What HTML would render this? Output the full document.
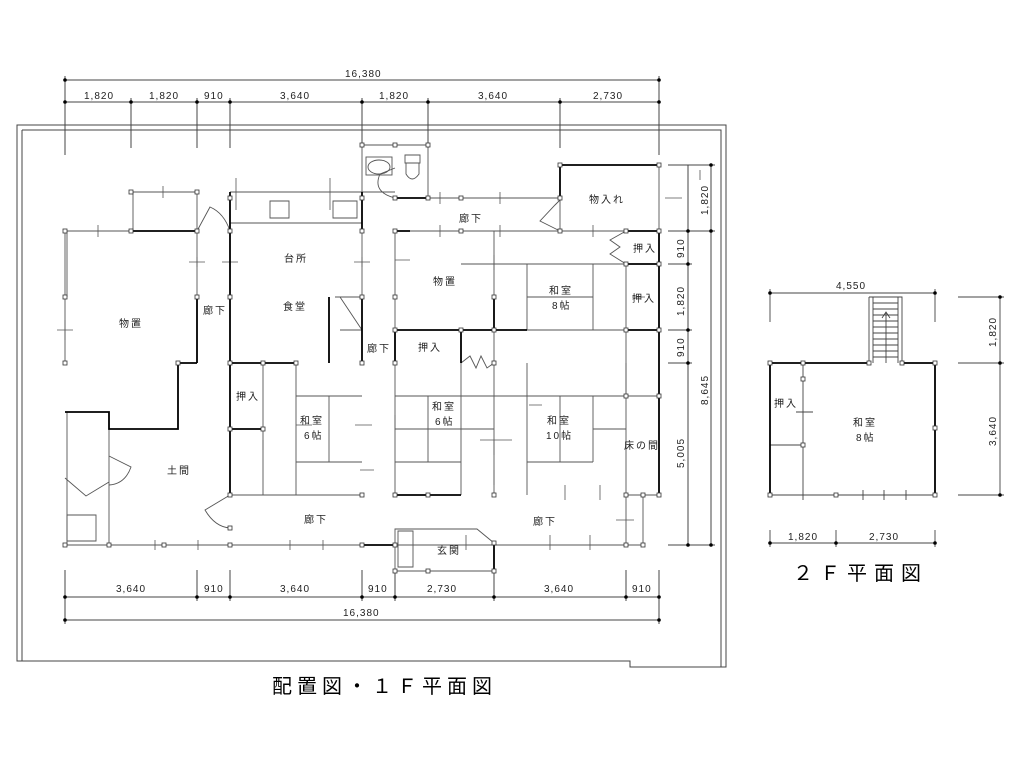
<!DOCTYPE html>
<html><head><meta charset="utf-8"><style>
html,body{margin:0;padding:0;background:#fff}
svg{display:block}
text{font-family:"Liberation Sans","Noto Sans CJK JP",sans-serif;fill:#222}
.d{font-size:10px;letter-spacing:1px}
.l{font-size:10px;letter-spacing:2px}
</style></head><body>
<svg width="1024" height="768" viewBox="0 0 1024 768" xmlns="http://www.w3.org/2000/svg">
<g fill="none" stroke="#444" stroke-width="1">
<path d="M17 125H726V667H630V661H17Z"/>
<path d="M22 130H721V667M22 130V661"/>
<path d="M65 80H659M65 102H659"/>
<path d="M65 76V155M131 98V148M197 98V148M230 98V148M362 98V148M428 98V148M560 98V148M659 76V155"/>
<path d="M65 597H659M65 620H659"/>
<path d="M65 570V624M197 570V601M230 570V601M362 570V601M395 570V601M494 570V601M626 570V601M659 570V624"/>
<path d="M688 165V231M688 231V545M711 165V545"/>
<path d="M668 165H715M668 231H715M668 264H692M668 330H692M668 363H692M668 545H715"/>
</g>
<g fill="#000">
<circle cx="65" cy="80" r="1.8"/><circle cx="659" cy="80" r="1.8"/>
<circle cx="65" cy="102" r="1.8"/><circle cx="131" cy="102" r="1.8"/><circle cx="197" cy="102" r="1.8"/><circle cx="230" cy="102" r="1.8"/><circle cx="362" cy="102" r="1.8"/><circle cx="428" cy="102" r="1.8"/><circle cx="560" cy="102" r="1.8"/><circle cx="659" cy="102" r="1.8"/>
<circle cx="65" cy="597" r="1.8"/><circle cx="197" cy="597" r="1.8"/><circle cx="230" cy="597" r="1.8"/><circle cx="362" cy="597" r="1.8"/><circle cx="395" cy="597" r="1.8"/><circle cx="494" cy="597" r="1.8"/><circle cx="626" cy="597" r="1.8"/><circle cx="659" cy="597" r="1.8"/>
<circle cx="65" cy="620" r="1.8"/><circle cx="659" cy="620" r="1.8"/>
<circle cx="711" cy="165" r="1.8"/><circle cx="711" cy="231" r="1.8"/><circle cx="711" cy="545" r="1.8"/>
<circle cx="688" cy="231" r="1.8"/><circle cx="688" cy="264" r="1.8"/><circle cx="688" cy="330" r="1.8"/><circle cx="688" cy="363" r="1.8"/><circle cx="688" cy="545" r="1.8"/>
</g>
<g class="d">
<text x="345" y="77">16,380</text>
<text x="84" y="99">1,820</text><text x="149" y="99">1,820</text><text x="204" y="99">910</text>
<text x="280" y="99">3,640</text><text x="379" y="99">1,820</text><text x="478" y="99">3,640</text><text x="593" y="99">2,730</text>
<text x="116" y="592">3,640</text><text x="204" y="592">910</text><text x="280" y="592">3,640</text><text x="368" y="592">910</text><text x="427" y="592">2,730</text><text x="544" y="592">3,640</text><text x="632" y="592">910</text>
<text x="343" y="616">16,380</text>
<text transform="translate(708,215) rotate(-90)">1,820</text>
<text transform="translate(684,258) rotate(-90)">910</text>
<text transform="translate(684,316) rotate(-90)">1,820</text>
<text transform="translate(684,357) rotate(-90)">910</text>
<text transform="translate(708,405) rotate(-90)">8,645</text>
<text transform="translate(684,468) rotate(-90)">5,005</text>
</g>

<g fill="none" stroke="#555" stroke-width="0.9">
<path d="M131 192H197V231H65V363"/>
<path d="M67 231V297M67 412V545M133 192V231"/>
<path d="M230 192H362M230 223H362M230 192V231"/>
<path d="M362 145H428V198M362 145V198M362 192H395"/>
<path d="M395 198H560M395 231H659M560 165H659V495M560 165V231"/>
<path d="M395 231V495M494 231V495M626 264V495M626 264H659M461 264H659"/>
<path d="M527 264V330M527 297H593M593 264V330M494 330H659M626 363V396"/>
<path d="M197 231V297M230 231V363M362 198V297"/>
<path d="M263 363V495M296 363V495M296 396H362M296 462H362M329 396V462M230 495H362M263 429H230"/>
<path d="M395 396H494M461 330V495M461 429H494M428 396V462M395 462H461"/>
<path d="M527 363V495M494 396H626M527 462H593M593 396V462M560 396V462M593 429H626M461 429H395"/>
<path d="M626 396H659M626 495H659"/>
<path d="M65 545H362M395 545H626V495M643 495V545H626"/>
<path d="M109 429V545"/>
<path d="M67 515H96V541H67Z"/>
<path d="M395 529H477L494 543V571H395Z"/><path d="M398 531H413V567H398Z"/>
<path d="M270 201H289V218H270ZM333 201H357V218H333Z"/>
<path d="M335 297H362V363M340 297L362 330M340 330L362 330"/>
<path d="M197 231L210 207Q224 213 230 231"/>
<path d="M109 456L131 467Q125 484 109 485M109 482L86 496L65 478"/>
<path d="M230 495L205 510Q215 527 230 528"/>
<path d="M395 198Q372 192 380 174L395 168"/>
<path d="M560 231L540 221L555 205L560 200"/>
<path d="M626 231L610 240L620 247L610 254L626 264"/>
<path d="M461 363L470 356L476 368L481 356L487 368L494 363"/>
<ellipse cx="379" cy="167" rx="11" ry="7"/><rect x="366" y="157" width="26" height="18"/>
<path d="M405 155H420V163H405ZM406 163V174Q412 184 419 174V163"/>
</g>

<g stroke="#555" stroke-width="0.8">
<path d="M163 186V198M158 192H170M98 225V237M90 231H104M236 178V210M330 178V210"/>
<path d="M65 320V340M57 330H73M197 257V267M189 262H205M230 257V267M222 262H238M362 257V267M354 262H370"/>
<path d="M440 192V204M500 192V204M440 225V237M500 225V237M593 225V237M665 198H682M494 255V270M395 260H410"/>
<path d="M466 535V550M550 535V550M590 535V550M616 520H634M565 485V500M600 485V500M632 297H645"/>
<path d="M155 540V550M198 540V550M290 540V550M323 540V550M263 440V450M296 425H312M355 425H372M395 415V430M360 470H374"/>
<path d="M494 440V455M480 440H512M494 470V485M529 405H542M700 170V180"/>
</g>

<g fill="none" stroke="#000" stroke-width="1.8">
<path d="M131 231H197"/>
<path d="M197 297V363M230 231V363"/>
<path d="M230 192V231M362 192V231M362 297V363M329 297V363M395 330V363"/>
<path d="M395 330H494V297M494 330H527M461 330V363"/>
<path d="M560 165H659M560 165V198M626 231H659M626 264H659M626 330H659"/>
<path d="M395 198H428M395 231H410"/>
<path d="M178 363H197M178 363V429H109V412H65"/>
<path d="M230 363H296M230 363V495M230 429H263"/>
<path d="M395 495H461M362 545H395M494 543V571"/>
<path d="M659 231V495"/>
</g>

<g fill="#fff" stroke="#333" stroke-width="0.8">
<rect x="129" y="190" width="4" height="4"/><rect x="195" y="190" width="4" height="4"/><rect x="63" y="229" width="4" height="4"/><rect x="129" y="229" width="4" height="4"/><rect x="195" y="229" width="4" height="4"/><rect x="228" y="229" width="4" height="4"/><rect x="228" y="196" width="4" height="4"/><rect x="360" y="229" width="4" height="4"/><rect x="360" y="196" width="4" height="4"/>
<rect x="195" y="295" width="4" height="4"/><rect x="228" y="295" width="4" height="4"/><rect x="360" y="295" width="4" height="4"/><rect x="63" y="295" width="4" height="4"/>
<rect x="360" y="143" width="4" height="4"/><rect x="393" y="143" width="4" height="4"/><rect x="426" y="143" width="4" height="4"/><rect x="426" y="196" width="4" height="4"/><rect x="393" y="196" width="4" height="4"/>
<rect x="459" y="196" width="4" height="4"/><rect x="558" y="196" width="4" height="4"/><rect x="558" y="163" width="4" height="4"/><rect x="657" y="163" width="4" height="4"/>
<rect x="393" y="229" width="4" height="4"/><rect x="459" y="229" width="4" height="4"/><rect x="558" y="229" width="4" height="4"/><rect x="624" y="229" width="4" height="4"/><rect x="657" y="229" width="4" height="4"/>
<rect x="624" y="262" width="4" height="4"/><rect x="657" y="262" width="4" height="4"/><rect x="624" y="328" width="4" height="4"/><rect x="657" y="328" width="4" height="4"/>
<rect x="393" y="295" width="4" height="4"/><rect x="492" y="295" width="4" height="4"/><rect x="393" y="328" width="4" height="4"/><rect x="492" y="328" width="4" height="4"/><rect x="459" y="328" width="4" height="4"/>
<rect x="63" y="361" width="4" height="4"/><rect x="176" y="361" width="4" height="4"/><rect x="228" y="361" width="4" height="4"/><rect x="261" y="361" width="4" height="4"/><rect x="294" y="361" width="4" height="4"/><rect x="360" y="361" width="4" height="4"/><rect x="393" y="361" width="4" height="4"/><rect x="492" y="361" width="4" height="4"/>
<rect x="228" y="427" width="4" height="4"/><rect x="261" y="427" width="4" height="4"/><rect x="624" y="394" width="4" height="4"/><rect x="657" y="394" width="4" height="4"/>
<rect x="228" y="493" width="4" height="4"/><rect x="360" y="493" width="4" height="4"/><rect x="393" y="493" width="4" height="4"/><rect x="426" y="493" width="4" height="4"/><rect x="492" y="493" width="4" height="4"/><rect x="624" y="493" width="4" height="4"/><rect x="641" y="493" width="4" height="4"/><rect x="657" y="493" width="4" height="4"/>
<rect x="228" y="526" width="4" height="4"/><rect x="63" y="543" width="4" height="4"/><rect x="107" y="543" width="4" height="4"/><rect x="162" y="543" width="4" height="4"/><rect x="228" y="543" width="4" height="4"/><rect x="360" y="543" width="4" height="4"/><rect x="393" y="543" width="4" height="4"/><rect x="492" y="541" width="4" height="4"/><rect x="624" y="543" width="4" height="4"/><rect x="641" y="543" width="4" height="4"/>
<rect x="393" y="569" width="4" height="4"/><rect x="426" y="569" width="4" height="4"/><rect x="492" y="569" width="4" height="4"/>
</g>

<g class="l">
<text x="119" y="327">物置</text>
<text x="284" y="262">台所</text>
<text x="283" y="310">食堂</text>
<text x="203" y="314">廊下</text>
<text x="367" y="352">廊下</text>
<text x="459" y="222">廊下</text>
<text x="589" y="203">物入れ</text>
<text x="433" y="285">物置</text>
<text x="549" y="294">和室</text><text x="552" y="309">8帖</text>
<text x="633" y="252">押入</text><text x="632" y="302">押入</text>
<text x="418" y="351">押入</text>
<text x="236" y="400">押入</text>
<text x="300" y="424">和室</text><text x="304" y="439">6帖</text>
<text x="432" y="410">和室</text><text x="435" y="425">6帖</text>
<text x="547" y="424">和室</text><text x="546" y="439">10帖</text>
<text x="624" y="449">床の間</text>
<text x="167" y="474">土間</text>
<text x="304" y="523">廊下</text>
<text x="533" y="525">廊下</text>
<text x="437" y="554">玄関</text>
</g>
<text x="272" y="693" style="font-size:20px;letter-spacing:5px;fill:#000">配置図・１Ｆ平面図</text>

<g fill="none" stroke="#444" stroke-width="0.9">
<path d="M770 293H935M770 289V322M935 289V322"/>
<path d="M770 543H935M770 530V547M836 530V547M935 530V547"/>
<path d="M1000 297V495M958 297H1004M958 363H1004M958 495H1004"/>
<path d="M869 297H902V363M869 297V363M873 297V363M898 297V363M873 303H898M873 309H898M873 315H898M873 321H898M873 327H898M873 333H898M873 339H898M873 345H898M873 351H898M873 357H898"/>
<path d="M886 363V312M882 318L886 312L890 318"/>
<path d="M803 363V495M770 445H803M770 495H935M796 412H813M803 490V500M863 490V500M884 490V500M906 490V500"/>
</g>
<g fill="none" stroke="#000" stroke-width="1.8"><path d="M770 495V363H869M902 363H935V495"/></g>
<g fill="#000">
<circle cx="770" cy="293" r="1.8"/><circle cx="935" cy="293" r="1.8"/><circle cx="770" cy="543" r="1.8"/><circle cx="836" cy="543" r="1.8"/><circle cx="935" cy="543" r="1.8"/>
<circle cx="1000" cy="297" r="1.8"/><circle cx="1000" cy="363" r="1.8"/><circle cx="1000" cy="495" r="1.8"/>
</g>
<g fill="#fff" stroke="#333" stroke-width="0.8">
<rect x="768" y="361" width="4" height="4"/><rect x="801" y="361" width="4" height="4"/><rect x="867" y="361" width="4" height="4"/><rect x="900" y="361" width="4" height="4"/><rect x="933" y="361" width="4" height="4"/>
<rect x="801" y="377" width="4" height="4"/><rect x="801" y="443" width="4" height="4"/><rect x="933" y="426" width="4" height="4"/>
<rect x="768" y="493" width="4" height="4"/><rect x="834" y="493" width="4" height="4"/><rect x="933" y="493" width="4" height="4"/>
</g>
<g class="d">
<text x="836" y="289">4,550</text>
<text x="788" y="540">1,820</text><text x="869" y="540">2,730</text>
<text transform="translate(996,347) rotate(-90)">1,820</text>
<text transform="translate(996,446) rotate(-90)">3,640</text>
</g>
<g class="l">
<text x="774" y="407">押入</text>
<text x="853" y="426">和室</text><text x="856" y="441">8帖</text>
</g>
<text x="793" y="580" style="font-size:20px;letter-spacing:7px;fill:#000">２Ｆ平面図</text>
</svg>
</body></html>
